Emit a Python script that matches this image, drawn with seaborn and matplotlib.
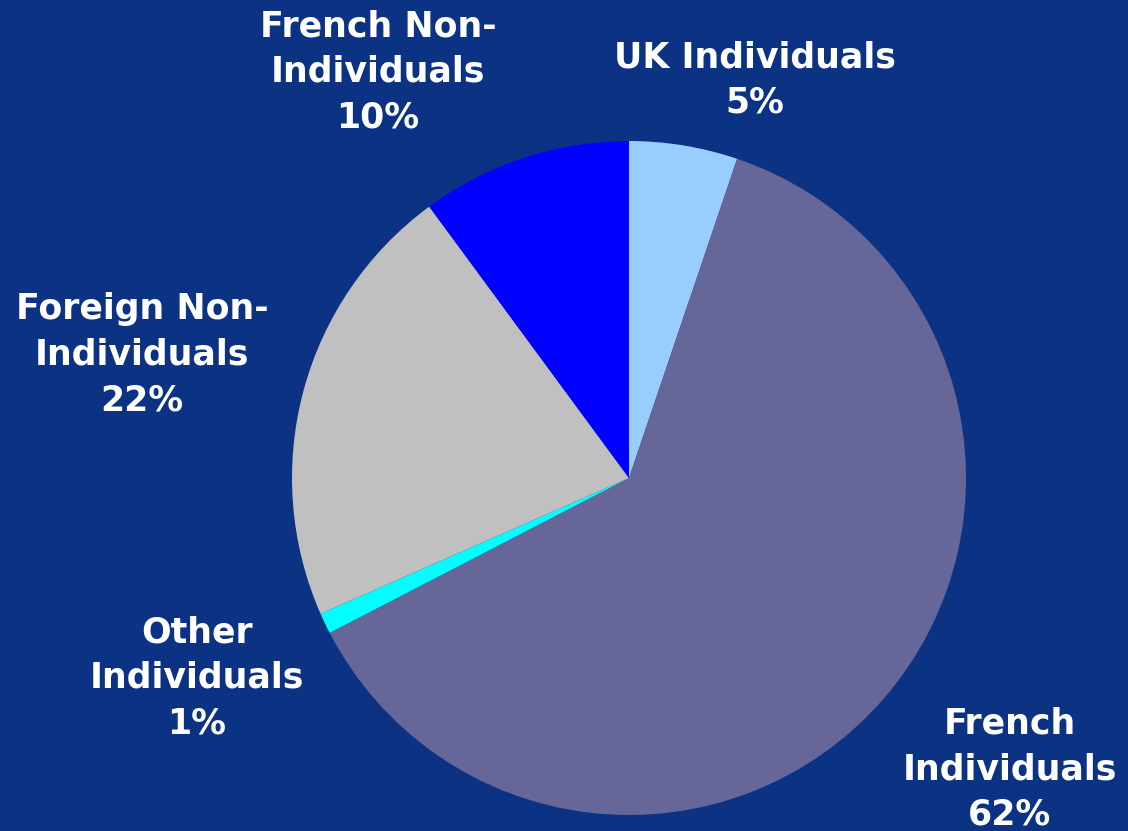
import matplotlib.pyplot as plt
import seaborn as sns

# shares (clockwise from 12 o'clock)
categories = [
    "UK Individuals",
    "French\nIndividuals",
    "Other\nIndividuals",
    "Foreign Non-\nIndividuals",
    "French Non-\nIndividuals",
]
shares = [5.2, 62.2, 1.0, 21.5, 10.1]
colors = ["#99CCFF", "#666699", "#00FFFF", "#C0C0C0", "#0000FF"]

BG = "#0C3383"
RADIUS_PX = 337
CENTER_PX = (629, 478)
W, H = 1128, 831

# label anchor points in pixels (x from left, y from top)
label_px = [(755, 80), (1010, 769), (197, 678), (142, 355), (378, 72)]


def to_data(px, py):
    return (px - CENTER_PX[0]) / RADIUS_PX, (CENTER_PX[1] - py) / RADIUS_PX


def main():
    sns.set_style("white")
    plt.rcParams["font.family"] = ["DejaVu Sans"]

    fig = plt.figure(figsize=(W / 100, H / 100), dpi=100, facecolor=BG)
    ax = fig.add_axes([0, 0, 1, 1])
    ax.set_facecolor(BG)

    palette = sns.color_palette(colors)
    ax.pie(
        shares,
        colors=palette,
        startangle=90,
        counterclock=False,
        radius=1,
        wedgeprops=dict(linewidth=0, antialiased=True),
    )

    for name, share, (px, py) in zip(categories, shares, label_px):
        x, y = to_data(px, py)
        ax.text(
            x, y, f"{name}\n{round(share)}%",
            ha="center", va="center", multialignment="center",
            color="white", fontsize=25, fontweight="bold", linespacing=1.43,
        )

    x0, y1 = to_data(0, 0)
    x1, y0 = to_data(W, H)
    ax.set_xlim(x0, x1)
    ax.set_ylim(y0, y1)
    ax.set_aspect("auto")
    ax.axis("off")

    fig.savefig("out.png", dpi=100, facecolor=BG)


if __name__ == "__main__":
    main()
